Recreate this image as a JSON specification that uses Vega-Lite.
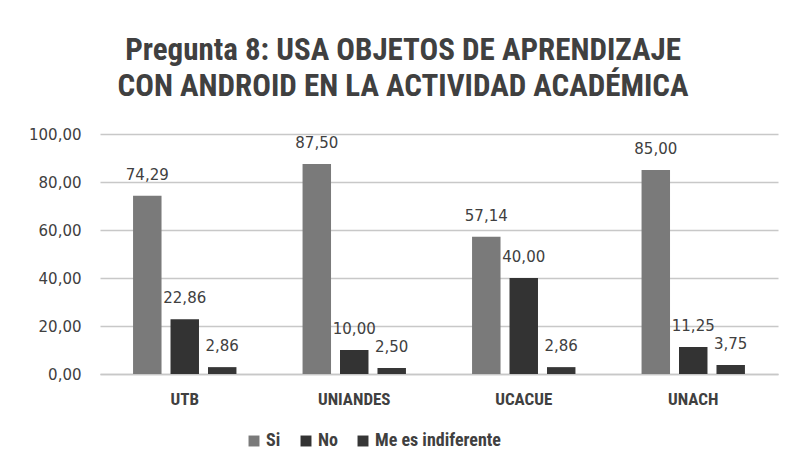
{
  "$schema": "https://vega.github.io/schema/vega-lite/v6.json",
  "width": 678,
  "height": 240,
  "autosize": {"type": "none"},
  "padding": {"left": 100, "top": 134, "right": 16, "bottom": 96},
  "background": "white",
  "title": {
    "text": ["Pregunta 8: USA OBJETOS DE APRENDIZAJE", "CON ANDROID EN LA ACTIVIDAD ACADÉMICA"],
    "font": "Liberation Sans Narrow, Roboto Condensed, Open Sans",
    "fontSize": 31,
    "fontWeight": "bold",
    "color": "#404040",
    "anchor": "middle",
    "dx": -36,
    "offset": 24,
    "lineHeight": 36
  },
  "data": {
    "values": [
      {"u": "UTB", "s": "Si", "v": 74.29},
      {"u": "UTB", "s": "No", "v": 22.86},
      {"u": "UTB", "s": "Me es indiferente", "v": 2.86},
      {"u": "UNIANDES", "s": "Si", "v": 87.5},
      {"u": "UNIANDES", "s": "No", "v": 10.0},
      {"u": "UNIANDES", "s": "Me es indiferente", "v": 2.5},
      {"u": "UCACUE", "s": "Si", "v": 57.14},
      {"u": "UCACUE", "s": "No", "v": 40.0},
      {"u": "UCACUE", "s": "Me es indiferente", "v": 2.86},
      {"u": "UNACH", "s": "Si", "v": 85.0},
      {"u": "UNACH", "s": "No", "v": 11.25},
      {"u": "UNACH", "s": "Me es indiferente", "v": 3.75}
    ]
  },
  "encoding": {
    "x": {
      "field": "u", "type": "nominal", "sort": null, "title": null,
      "scale": {"paddingInner": 0.39, "paddingOuter": 0.195},
      "axis": {"labelAngle": 0, "labelFont": "Liberation Sans Narrow, Roboto Condensed, Open Sans", "labelFontSize": 17, "labelFontWeight": "bold", "labelColor": "#404040", "labelPadding": 17, "ticks": false, "domain": true, "domainColor": "#c8c8c8", "domainWidth": 1.5}
    },
    "xOffset": {
      "field": "s", "type": "nominal", "sort": ["Si", "No", "Me es indiferente"],
      "scale": {"paddingInner": 0.24, "paddingOuter": 0}
    },
    "y": {
      "field": "v", "type": "quantitative", "title": null,
      "scale": {"domain": [0, 100]},
      "axis": {"values": [0, 20, 40, 60, 80, 100], "format": ".2f", "labelFont": "DejaVu Sans", "labelFontSize": 15, "labelColor": "#404040", "labelPadding": 19, "ticks": false, "domain": false, "gridColor": "#c8c8c8", "gridWidth": 1.5}
    }
  },
  "layer": [
    {
      "mark": {"type": "bar"},
      "encoding": {
        "color": {
          "field": "s", "type": "nominal", "sort": ["Si", "No", "Me es indiferente"],
          "scale": {"domain": ["Si", "No", "Me es indiferente"], "range": ["#7a7a7a", "#333333", "#363636"]},
          "legend": {"orient": "none", "legendX": 145, "legendY": 298, "title": null, "direction": "horizontal", "symbolType": "square", "symbolSize": 120, "symbolStrokeWidth": 0, "labelFont": "Liberation Sans Narrow, Roboto Condensed, Open Sans", "labelFontSize": 18, "labelFontWeight": "bold", "labelColor": "#404040", "columnPadding": 16, "labelOffset": 3}
        }
      }
    },
    {
      "mark": {"type": "text", "dy": -21, "fontSize": 15, "color": "#404040", "font": "DejaVu Sans"},
      "encoding": {
        "text": {"field": "v", "type": "quantitative", "format": ".2f"}
      }
    }
  ],
  "config": {
    "view": {"stroke": null},
    "locale": {"number": {"decimal": ",", "thousands": ".", "grouping": [3], "currency": ["", " €"]}}
  }
}
